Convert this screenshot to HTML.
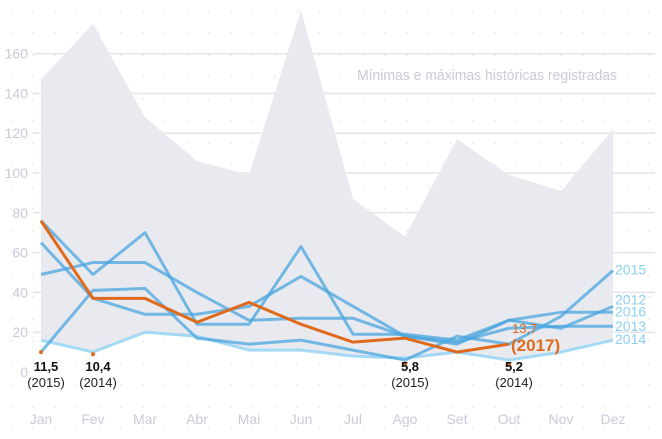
<!DOCTYPE html>
<html><head><meta charset="utf-8"><style>
body{margin:0;background:#fff;}
svg{display:block;font-family:"Liberation Sans Narrow","Liberation Sans",sans-serif;}
</style></head><body>
<svg id="chart" width="662" height="439" viewBox="0 0 662 439" xmlns="http://www.w3.org/2000/svg">
<defs>
<pattern id="dots" width="22" height="22" patternUnits="userSpaceOnUse"><circle cx="11" cy="11" r="0.8" fill="#dcdee8"/></pattern>
</defs>
<rect width="662" height="439" fill="url(#dots)"/>
<g id="grid"></g>
<g id="area"></g>
<text x="357" y="80" font-size="15" fill="#c9cbd9" textLength="260" lengthAdjust="spacingAndGlyphs">Mínimas e máximas históricas registradas</text>
<g id="lines"></g>
<g id="labels"></g>
</svg>
<script>
const months=["Jan","Fev","Mar","Abr","Mai","Jun","Jul","Ago","Set","Out","Nov","Dez"];
const yTicks=[0,20,40,60,80,100,120,140,160];
const maxValues=[147,175,128,106,99,182,87,68,117,99,91,122];
const minValues=[16,10,20,17,11,11,8,6,10,6,10,16];
const years=["2012","2013","2014","2015","2016"];
const s2012=[65,37,29,29,33,48,33,18,14,26,22,33];
const s2013=[49,55,55,40,26,27,27,18,15,22,23,23];
const s2014=[16,10,20,18,11,11,8,7,10,6,10,16];
const s2015=[10,41,42,17,14,16,11,6,18,14,28,51];
const s2016=[76,49,70,24,24,63,19,19,16,26,30,30];
const s2017=[76,37,37,25,35,24,15,17,10,14];
const minLabels=[{m:0,v:"11,5",y:"(2015)"},{m:1,v:"10,4",y:"(2014)"},{m:7,v:"5,8",y:"(2015)"},{m:9,v:"5,2",y:"(2014)"}];
const minLabelValues=[11.5,10.4,5.8,5.2];

const NS="http://www.w3.org/2000/svg";
const X=i=>41+i*52;
const Y=v=>372-v*1.99;
function mk(tag,attrs,parent){const e=document.createElementNS(NS,tag);for(const k in attrs)e.setAttribute(k,attrs[k]);parent.appendChild(e);return e;}
const grid=document.getElementById('grid'),area=document.getElementById('area'),lines=document.getElementById('lines'),labels=document.getElementById('labels');
yTicks.forEach(t=>{
  if(t>0){const l=mk('line',{x1:33,x2:655,y1:Y(t),y2:Y(t),stroke:'#e3e4ec','stroke-width':1.5},grid);
  
  }
  const tx=mk('text',{x:28,y:Y(t)+5,'text-anchor':'end','font-size':14,fill:'#c9cbd9'},grid);tx.textContent=t;
  
  
});
months.forEach((m,i)=>{const tx=mk('text',{x:X(i),y:424,'text-anchor':'middle','font-size':14,fill:'#c9cbd9'},grid);tx.textContent=m;
  
  });
let pts=maxValues.map((v,i)=>X(i)+','+Y(v));
for(let i=minValues.length-1;i>=0;i--)pts.push(X(i)+','+Y(minValues[i]));
const poly=mk('polygon',{points:pts.join(' '),fill:'#e9eaf0'},area);


const series=[s2012,s2013,s2014,s2015,s2016];
const colors=['#4aa6df','#4aa6df','#8ad0f4','#4aa6df','#4aa6df'];
const labelShift=[-2,5,4,4,4];
series.forEach((s,k)=>{
  const p=mk('polyline',{points:s.map((v,i)=>X(i)+','+Y(v)).join(' '),fill:'none',stroke:colors[k],'stroke-width':3,'stroke-opacity':0.75,'stroke-linejoin':'round'},lines);
  
  
  const t=mk('text',{x:615,y:Y(s[11])+labelShift[k],'font-size':14,fill:'#8ad0f4'},labels);t.textContent=years[k];
  
  
});
const o=mk('polyline',{points:s2017.map((v,i)=>X(i)+','+Y(v)).join(' '),fill:'none',stroke:'#e06a1c','stroke-width':3,'stroke-linejoin':'round'},lines);


const last=s2017.length-1;
const t1=mk('text',{x:X(last)+3,y:Y(s2017[last])-11,'font-size':13,fill:'#e06a1c'},labels);t1.textContent="13,7";


const t2=mk('text',{x:X(last)+2,y:Y(s2017[last])+7,'font-size':17,fill:'#e06a1c','font-weight':'bold'},labels);t2.textContent="(2017)";


minLabels.forEach((d,k)=>{
  const c=mk('circle',{cx:X(d.m),cy:Y(minLabelValues[k])+3,r:2,fill:'#e06a1c'},labels);
  
  
  const a=mk('text',{x:X(d.m)+5,y:371,'text-anchor':'middle','font-size':13,'font-weight':'bold',fill:'#111'},labels);a.textContent=d.v;
  
  
  const b=mk('text',{x:X(d.m)+5,y:387,'text-anchor':'middle','font-size':13,fill:'#222'},labels);b.textContent=d.y;
  
  
});
</script>
</body></html>
